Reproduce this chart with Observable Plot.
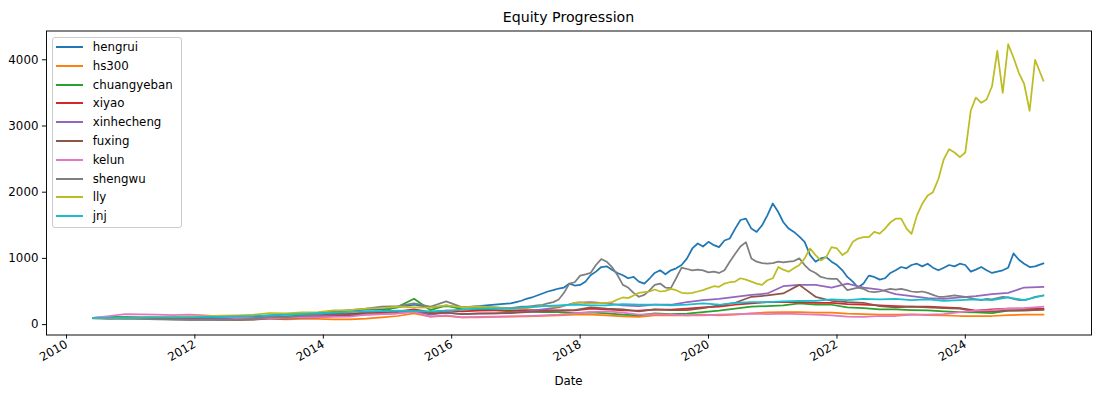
<!DOCTYPE html>
<html><head><meta charset="utf-8">
<script src="https://cdn.jsdelivr.net/npm/d3@7"></script>
<script src="https://cdn.jsdelivr.net/npm/@observablehq/plot@0.6"></script>
<style>
body{margin:0;background:#fff;font-family:"DejaVu Sans",sans-serif;color:#000;}
#wrap{position:relative;width:1101px;height:395px;overflow:hidden;}
#title{height:30px;box-sizing:border-box;padding:9px 10px 0 46px;line-height:16px;font-size:14.2px;text-align:center;}
#xlabel{height:23px;box-sizing:border-box;padding:2px 10px 0 46px;line-height:14px;font-size:11.8px;text-align:center;}
#legend{position:absolute;left:52px;top:37px;width:130px;height:191px;box-sizing:border-box;border:1px solid #ccc;border-radius:3px;background:rgba(255,255,255,0.8);}
.row{height:18.8px;position:relative;font-size:11.8px;}
.sw{position:absolute;left:3px;top:8px;width:27px;height:2px;}
.lab{position:absolute;left:39.7px;top:0;line-height:18.8px;white-space:nowrap;}
</style></head>
<body>
<div id="wrap">
  <div id="title">Equity Progression</div>
  <div id="chart"></div>
  <div id="xlabel">Date</div>
  <div id="legend"></div>
</div>
<script>
// Quarterly dates (used by the smaller series over the full span)
const datesQuarterly = ["2010-06-01","2010-09-01","2010-12-01","2011-03-01","2011-06-01","2011-09-01","2011-12-01","2012-03-01","2012-06-01","2012-09-01",
"2012-12-01","2013-03-01","2013-06-01","2013-09-01","2013-12-01","2014-03-01","2014-06-01","2014-09-01","2014-12-01","2015-03-01",
"2015-06-01","2015-09-01","2015-12-01","2016-03-01","2016-06-01","2016-09-01","2016-12-01","2017-03-01","2017-06-01","2017-09-01",
"2017-12-01","2018-03-01","2018-06-01","2018-09-01","2018-12-01","2019-03-01","2019-06-01","2019-09-01","2019-12-01","2020-03-01",
"2020-06-01","2020-09-01","2020-12-01","2021-03-01","2021-06-01","2021-09-01","2021-12-01","2022-03-01","2022-06-01","2022-09-01",
"2022-12-01","2023-03-01","2023-06-01","2023-09-01","2023-12-01","2024-03-01","2024-06-01","2024-09-01","2024-12-01","2025-03-20"];
// Monthly dates 2017-01 .. 2025-03 (used by the three large series after 2016)
const datesMonthly = [
"2017-01-01","2017-02-01","2017-03-01","2017-04-01","2017-05-01","2017-06-01","2017-07-01","2017-08-01","2017-09-01","2017-10-01","2017-11-01","2017-12-01",
"2018-01-01","2018-02-01","2018-03-01","2018-04-01","2018-05-01","2018-06-01","2018-07-01","2018-08-01","2018-09-01","2018-10-01","2018-11-01","2018-12-01",
"2019-01-01","2019-02-01","2019-03-01","2019-04-01","2019-05-01","2019-06-01","2019-07-01","2019-08-01","2019-09-01","2019-10-01","2019-11-01","2019-12-01",
"2020-01-01","2020-02-01","2020-03-01","2020-04-01","2020-05-01","2020-06-01","2020-07-01","2020-08-01","2020-09-01","2020-10-01","2020-11-01","2020-12-01",
"2021-01-01","2021-02-01","2021-03-01","2021-04-01","2021-05-01","2021-06-01","2021-07-01","2021-08-01","2021-09-01","2021-10-01","2021-11-01","2021-12-01",
"2022-01-01","2022-02-01","2022-03-01","2022-04-01","2022-05-01","2022-06-01","2022-07-01","2022-08-01","2022-09-01","2022-10-01","2022-11-01","2022-12-01",
"2023-01-01","2023-02-01","2023-03-01","2023-04-01","2023-05-01","2023-06-01","2023-07-01","2023-08-01","2023-09-01","2023-10-01","2023-11-01","2023-12-01",
"2024-01-01","2024-02-01","2024-03-01","2024-04-01","2024-05-01","2024-06-01","2024-07-01","2024-08-01","2024-09-01","2024-10-01","2024-11-01","2024-12-01",
"2025-01-01","2025-02-01","2025-03-20"];

const names = ["hengrui","hs300","chuangyeban","xiyao","xinhecheng","fuxing","kelun","shengwu","lly","jnj"];
const colors = ["#1f77b4","#ff7f0e","#2ca02c","#d62728","#9467bd","#8c564b","#e377c2","#7f7f7f","#bcbd22","#17becf"];

// Large series: quarterly 2010-06..2016-12, then monthly
const hengruiEarly = [100,110,115,110,115,105,100,110,120,115, 120,140,150,160,170,200,210,225,230,260, 300,260,280,260,280,300,320];
const hengruiLate = [340,360,390,410,440,470,500,520,545,560,620,590,
 600,650,745,800,870,880,830,780,745,700,720,650,
 620,700,780,820,760,820,850,900,1000,1150,1225,1180,
 1250,1200,1170,1270,1300,1450,1580,1600,1450,1400,1500,1650,
 1830,1700,1550,1450,1400,1330,1250,1050,950,1000,1020,950,
 900,820,720,650,560,620,740,720,680,700,780,820,
 870,850,900,920,880,920,860,820,860,900,880,920,
 900,800,830,870,820,780,800,820,860,1075,980,920,
 870,880,925];
const shengwuEarly = [95,85,90,85,80,75,70,75,70,75, 90,110,110,130,150,200,220,240,270,280, 320,270,350,260,270,260,250];
const shengwuLate = [260,270,270,280,290,300,320,340,380,480,620,640,
 740,760,780,900,990,950,870,750,600,560,480,420,
 450,520,600,620,560,550,700,860,840,820,830,820,
 790,800,780,820,950,1070,1180,1245,1000,950,930,920,
 930,950,940,950,960,1000,900,820,780,720,700,690,
 690,600,520,540,560,540,500,490,500,520,540,530,
 540,520,500,490,500,480,450,420,420,430,440,430,
 420,400,380,370,390,380,400,420,410,390,370,370,
 390,420,440];
const llyEarly = [100,100,105,110,115,115,120,130,135,140, 150,175,170,185,190,215,220,240,250,270, 260,255,290,260,275,260,240];
const llyLate = [240,250,250,260,270,280,280,270,280,290,300,330,
 340,320,320,320,330,330,340,380,410,400,440,480,
 490,500,530,500,510,540,520,480,470,480,500,520,
 550,580,570,620,640,650,700,680,650,620,600,670,
 700,870,830,800,850,900,1000,1150,1050,970,1020,1170,
 1150,1050,1100,1250,1300,1320,1320,1400,1375,1450,1545,1600,
 1600,1450,1370,1650,1825,1950,2000,2200,2500,2650,2600,2530,
 2600,3230,3430,3350,3400,3600,4135,3500,4235,4035,3800,3635,
 3230,4000,3685];

// Smaller series: quarterly over the full span
const hs300 = [100,105,110,105,100,90,85,90,85,80, 90,90,80,85,85,80,80,90,110,130, 170,120,130,110,110,115,120,125,130,140, 150,150,140,125,115,140,140,140,150,140, 150,170,185,190,190,180,180,165,160,150, 150,155,145,140,130,130,130,145,150,150];
const chuangyeban = [100,110,115,100,95,85,80,80,70,75, 80,110,120,140,150,165,160,190,200,270, 390,220,290,230,230,220,200,200,190,190, 175,185,170,150,140,170,160,165,190,210, 240,270,280,290,320,300,300,260,250,230, 230,220,215,200,190,185,175,210,220,225];
const xiyao = [100,100,100,95,90,85,85,90,90,90, 95,110,110,120,130,150,160,170,180,200, 230,190,210,200,210,215,215,220,220,215, 215,240,230,215,210,225,225,240,260,270, 300,320,340,340,340,330,330,310,300,290, 280,270,270,260,250,210,230,240,240,240];
const xinhecheng = [100,100,95,95,90,85,80,85,85,90, 95,110,110,120,130,140,140,150,160,170, 200,150,180,160,170,170,180,200,230,260, 330,340,320,290,280,300,300,340,370,390, 420,450,470,580,600,600,560,620,560,530, 460,430,400,390,410,430,460,480,560,570];
const fuxing = [100,95,100,95,85,80,75,80,75,70, 75,90,90,100,110,130,140,160,170,190, 220,170,180,160,165,170,175,190,200,210, 220,260,240,230,200,230,220,220,250,290, 330,420,440,470,600,420,360,340,330,280, 260,270,260,250,240,200,200,210,210,225];
const kelun = [100,130,160,155,150,145,150,140,120,100, 90,95,100,105,110,115,120,150,160,170, 190,120,140,110,115,120,125,130,140,150, 170,190,200,180,150,160,150,140,140,150, 160,165,160,165,160,150,140,120,115,130, 130,150,150,160,190,210,220,240,250,270];
const jnj = [100,100,100,105,110,110,110,115,115,125, 130,140,150,160,175,180,190,200,205,210, 205,200,210,225,240,245,240,260,280,290, 300,290,290,310,300,300,290,300,320,300, 330,340,340,350,360,360,380,370,390,380, 390,370,380,360,370,380,370,410,370,440];

const xTickYears = [2010,2012,2014,2016,2018,2020,2022,2024];
const yTicks = [0,1000,2000,3000,4000];
const xDomain = ["2009-09-09","2025-12-19"];
const yDomain = [-157,4435];

const earlyDates = datesQuarterly.slice(0, 27);
const bigDates = earlyDates.concat(datesMonthly);
const seriesDates = [bigDates, datesQuarterly, datesQuarterly, datesQuarterly, datesQuarterly, datesQuarterly, datesQuarterly, bigDates, bigDates, datesQuarterly];
const seriesValues = [hengruiEarly.concat(hengruiLate), hs300, chuangyeban, xiyao, xinhecheng, fuxing, kelun,
  shengwuEarly.concat(shengwuLate), llyEarly.concat(llyLate), jnj];

const tables = seriesValues.map((vals, k) => vals.map((v, i) => ({date: new Date(seriesDates[k][i]), value: v, name: names[k]})));

const chart = Plot.plot({
  width: 1101, height: 342,
  marginLeft: 46, marginRight: 10, marginTop: 0.5, marginBottom: 37.5,
  style: {fontFamily: "DejaVu Sans", fontSize: "11.8px", color: "#000", background: "transparent"},
  x: {type: "utc", domain: xDomain.map(d => new Date(d))},
  y: {domain: yDomain},
  marks: [
    ...tables.map((t, k) => Plot.line(t, {x: "date", y: "value", stroke: colors[k], strokeWidth: 1.75, strokeLinejoin: "round", strokeLinecap: "square"})),
    Plot.frame({stroke: "#000", strokeWidth: 0.95}),
    Plot.axisX({ticks: xTickYears.map(y => new Date(Date.UTC(y, 0, 1))), tickFormat: d => String(d.getUTCFullYear()), tickSize: 4.1, tickPadding: 4, tickRotate: -30, strokeWidth: 0.95, label: null}),
    Plot.axisY({ticks: yTicks, tickFormat: d => String(d), tickSize: 4.1, tickPadding: 4, strokeWidth: 0.95, label: null})
  ]
});
document.getElementById("chart").appendChild(chart);

const leg = document.getElementById("legend");
names.forEach((n, k) => {
  const row = document.createElement("div"); row.className = "row";
  const sw = document.createElement("div"); sw.className = "sw"; sw.style.background = colors[k];
  const lab = document.createElement("div"); lab.className = "lab"; lab.textContent = n;
  row.appendChild(sw); row.appendChild(lab); leg.appendChild(row);
});
</script>
</body></html>
